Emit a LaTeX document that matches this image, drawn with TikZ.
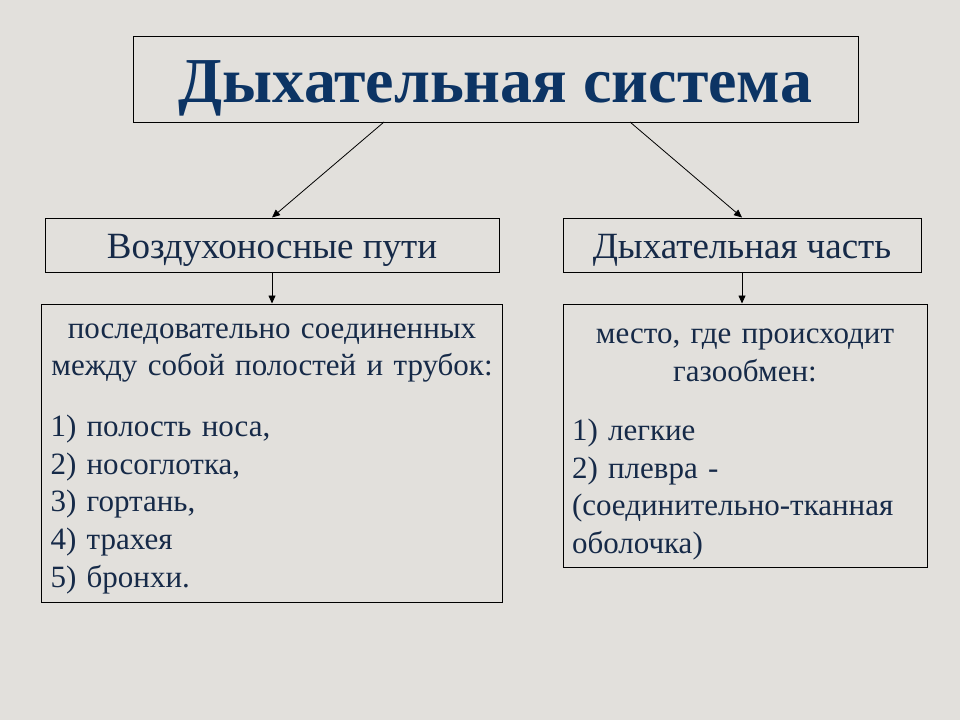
\documentclass[tikz,border=0pt]{standalone}
\usepackage{fontspec}
\setmainfont{Liberation Serif}
\usetikzlibrary{positioning,arrows.meta}
\definecolor{slidebg}{RGB}{226,224,220}
\definecolor{titleblue}{RGB}{12,52,100}
\definecolor{textnavy}{RGB}{22,42,72}
\tikzset{titlebox/.style={draw=black, line width=1pt, minimum width=725pt, minimum height=86pt, inner sep=0pt, text height=52pt, text depth=6pt, text=titleblue, font=\fontsize{64}{70}\selectfont\bfseries},
partbox/.style={draw=black, line width=1pt, minimum height=54pt, inner sep=0pt, text height=30pt, text depth=4pt, text=textnavy, font=\fontsize{37}{40}\selectfont},
descbox/.style={draw=black, line width=1pt, inner xsep=9pt, inner ysep=0pt, text=textnavy, font=\fontsize{31}{37.7}\selectfont, align=left},
arrowline/.style={line width=0.8pt, -{Triangle[length=8pt,width=7pt]}},}

\begin{document}
\begin{tikzpicture}[x=1pt,y=-1pt]
\fill[slidebg] (0,0) rectangle (960,720);
\useasboundingbox (0,0) rectangle (960,720);
\node [titlebox] (title) at (495.5,79) {Дыхательная система};
\node [partbox, minimum width=454pt] (airways) at (272,245) {Воздухоносные пути};
\node [partbox, minimum width=358pt] (respart) at (742,245) {Дыхательная часть};
\node [descbox, text width=443pt, minimum height=298pt] (airdesc) [below=31pt of airways] {{\centering\rule{0pt}{26pt}последовательно соединенных\\ между собой полостей и трубок:\par}\vspace{23pt}1) полость носа,\\ 2) носоглотка,\\ 3) гортань,\\ 4) трахея\\ 5) бронхи.};
\node [descbox, text width=346pt, minimum height=263pt, xshift=3pt] (resdesc) [below=31pt of respart] {{\centering\rule{0pt}{33pt}место, где происходит\\ газообмен:\par}\vspace{21pt}1) легкие\\ 2) плевра -\\ (соединительно-тканная\\ оболочка)};
\coordinate (tl) at (384,122);
\coordinate (tr) at (630,122);
\draw[arrowline] (tl) -- (airways.north);
\draw[arrowline] (tr) -- (respart.north);
\draw[arrowline] (airways.south) -- (airways.south |- airdesc.north);
\draw[arrowline] (respart.south) -- (respart.south |- resdesc.north);
\end{tikzpicture}
\end{document}
